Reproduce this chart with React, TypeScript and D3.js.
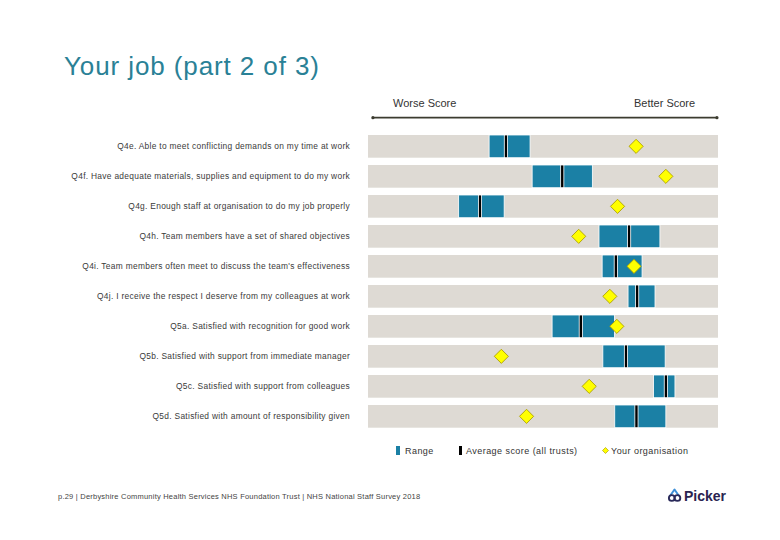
import React from "react";
import * as d3 from "d3";

const questions = [
  "Q4e. Able to meet conflicting demands on my time at work",
  "Q4f. Have adequate materials, supplies and equipment to do my work",
  "Q4g. Enough staff at organisation to do my job properly",
  "Q4h. Team members have a set of shared objectives",
  "Q4i. Team members often meet to discuss the team's effectiveness",
  "Q4j. I receive the respect I deserve from my colleagues at work",
  "Q5a. Satisfied with recognition for good work",
  "Q5b. Satisfied with support from immediate manager",
  "Q5c. Satisfied with support from colleagues",
  "Q5d. Satisfied with amount of responsibility given",
];
const rangeLow = [34.6, 46.9, 25.9, 66.0, 66.9, 74.3, 52.6, 67.1, 81.6, 70.5];
const rangeHigh = [46.3, 64.1, 38.9, 83.4, 78.3, 82.0, 70.4, 84.9, 87.7, 85.1];
const averageScore = [39.4, 55.5, 32.0, 74.6, 70.8, 76.9, 60.8, 73.7, 85.1, 76.7];
const yourOrg = [76.6, 85.1, 71.3, 60.2, 76.0, 69.1, 71.1, 38.1, 63.2, 45.3];
const legendLabels = ["Range", "Average score (all trusts)", "Your organisation"];

const W = 780;
const H = 540;
const FONT = "'Liberation Sans', Arial, sans-serif";
const TEAL = "#1b80a5";
const BG = "#dedad4";

export default function App() {
  const x = d3.scaleLinear().domain([0, 100]).range([368, 718]);
  const y = d3
    .scaleBand<string>()
    .domain(questions)
    .range([131.35, 431.35])
    .paddingInner(0.243)
    .paddingOuter(0.1215);
  const bw = y.bandwidth();
  const diamond = d3.symbol().type(d3.symbolSquare).size(100)();
  const smallDiamond = d3.symbol().type(d3.symbolSquare).size(18)();

  return (
    <svg
      width={W}
      height={H}
      style={{ position: "absolute", left: 0, top: 0, background: "#fff" }}
      fontFamily={FONT}
    >
      <text x={64} y={75} fontSize={26} letterSpacing={0.9} fill="#2a8196">
        Your job (part 2 of 3)
      </text>

      <text x={393} y={107} fontSize={11} fill="#333">Worse Score</text>
      <text x={634} y={107} fontSize={11} fill="#333">Better Score</text>
      <line x1={x(1.4)} x2={x(99.7)} y1={117.7} y2={117.7} stroke="#3c3c30" strokeWidth={1.8} />
      <circle cx={x(1.4)} cy={117.7} r={1.6} fill="#3c3c30" />
      <circle cx={x(99.7)} cy={117.7} r={1.6} fill="#3c3c30" />

      {questions.map((q, i) => {
        const top = y(q)!;
        const cy = top + bw / 2;
        return (
          <g key={q}>
            <text
              x={350}
              y={cy}
              dy="0.35em"
              textAnchor="end"
              fontSize={8.4}
              letterSpacing={0.3}
              fill="#3a3a3a"
            >
              {q}
            </text>
            <rect x={x(0)} y={top} width={x(100) - x(0)} height={bw} fill={BG} />
            <rect
              x={x(rangeLow[i])}
              y={top}
              width={x(rangeHigh[i]) - x(rangeLow[i])}
              height={bw}
              fill={TEAL}
              stroke="#fff"
              strokeWidth={0.8}
            />
            <rect
              x={x(averageScore[i]) - 1.6}
              y={top}
              width={3.2}
              height={bw}
              fill="#000"
              stroke="#fff"
              strokeWidth={0.8}
            />
            <path
              d={diamond!}
              transform={`translate(${x(yourOrg[i])},${cy}) rotate(45)`}
              fill="#ffff00"
              stroke="#a89a00"
              strokeWidth={0.8}
            />
          </g>
        );
      })}

      <g fontSize={9} letterSpacing={0.45} fill="#333">
        <rect x={396} y={446} width={4} height={9} fill={TEAL} />
        <text x={405} y={454}>{legendLabels[0]}</text>
        <rect x={459} y={446} width={3} height={9} fill="#000" />
        <text x={466} y={454}>{legendLabels[1]}</text>
        <path
          d={smallDiamond!}
          transform="translate(605.5,450.5) rotate(45)"
          fill="#ffff00"
          stroke="#a89a00"
          strokeWidth={0.6}
        />
        <text x={611} y={454}>{legendLabels[2]}</text>
      </g>

      <text x={58} y={499} fontSize={7.5} letterSpacing={0.22} fill="#444">
        p.29 | Derbyshire Community Health Services NHS Foundation Trust | NHS National Staff Survey 2018
      </text>

      <g>
        <path d="M670,496 L674.5,489.5 L679,496" fill="none" stroke="#3d8fd8" strokeWidth={2} strokeLinejoin="round" />
        <circle cx={671.8} cy={498} r={2.9} fill="none" stroke="#2a2a5a" strokeWidth={1.9} />
        <circle cx={677.4} cy={498} r={2.9} fill="none" stroke="#2a2a5a" strokeWidth={1.9} />
        <text x={684} y={501} fontSize={14} fontWeight="bold" fill="#2a2350">
          Picker
        </text>
      </g>
    </svg>
  );
}
